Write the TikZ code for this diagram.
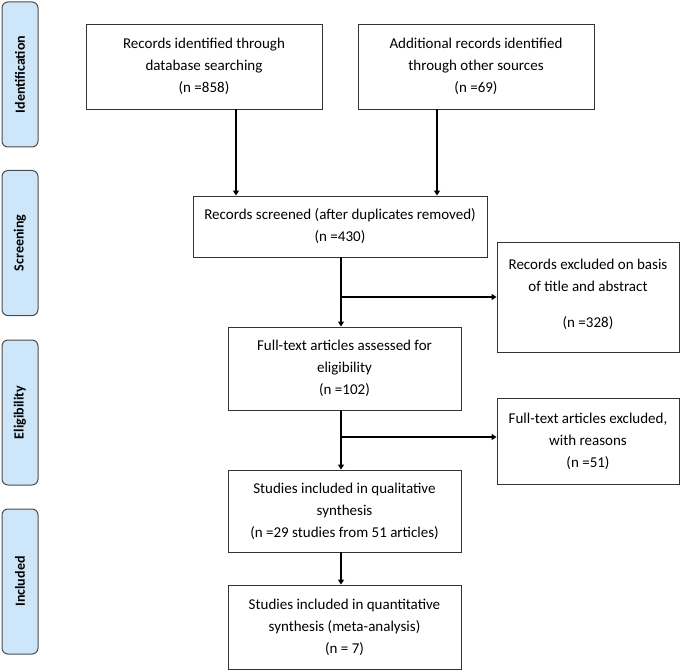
\documentclass[tikz,border=0pt]{standalone}
\usepackage{fontspec}
\setmainfont{Carlito}
\usetikzlibrary{arrows.meta}
\definecolor{stageblue}{RGB}{205,230,249}

\begin{document}
\begin{tikzpicture}[x=1pt, y=-1pt,
		box/.style={draw=black!80, line width=0.9pt, align=center, inner sep=2pt,
			font=\fontsize{15}{22}\selectfont},
		stage/.style={draw=black!70, line width=1pt, fill=stageblue, rounded corners=6pt,
			rotate=90, minimum width=145pt, minimum height=36pt, font=\bfseries\fontsize{14}{16}\selectfont},
		link/.style={line width=1.2pt, -{Triangle[length=5pt, width=6pt]}}]
			\useasboundingbox (0, 0) rectangle (680, 671);
			\foreach \y/\txt [count=\i] in {74.5/Identification, 243/Screening, 412.5/Eligibility, 581.5/Included}
				\node[stage] (stage\i) at (20, \y) {\txt};
			\node[box, minimum width=236pt, minimum height=85pt] (ident) at (204, 66.5)
				{Records identified through\\database searching\\(n =858)};
			\node[box, minimum width=236pt, minimum height=85pt] (other) at (476, 66.5)
				{Additional records identified\\through other sources\\(n =69)};
			\node[box, minimum width=294pt, minimum height=61pt] (screen) at (340, 226.5)
				{Records screened (after duplicates removed)\\(n =430)};
			\node[box, minimum width=182pt, minimum height=110pt, text depth=8pt] (excl) at (588, 297)
				{Records excluded on basis\\of title and abstract\\[14pt](n =328)};
			\node[box, minimum width=233pt, minimum height=83pt] (full) at (344.5, 368.5)
				{Full-text articles assessed for\\eligibility\\(n =102)};
			\node[box, minimum width=182pt, minimum height=86pt] (fullexcl) at (588, 441)
				{Full-text articles excluded,\\with reasons\\(n =51)};
			\node[box, minimum width=233pt, minimum height=82pt] (qual) at (344.5, 511)
				{Studies included in qualitative\\synthesis\\(n =29 studies from 51 articles)};
			\node[box, minimum width=233pt, minimum height=84pt] (quant) at (344.5, 627)
				{Studies included in quantitative\\synthesis (meta-analysis)\\(n = 7)};
			\coordinate (split1) at (341, 297);
			\coordinate (split2) at (341, 437);
			\draw[link] (ident.south -| 236, 0) -- (screen.north -| 236, 0);
			\draw[link] (other.south -| 437, 0) -- (screen.north -| 437, 0);
			\draw[link] (screen.south -| split1) -- (full.north -| split1);
			\draw[link] (split1) -- (excl.west |- split1);
			\draw[link] (full.south -| split2) -- (qual.north -| split2);
			\draw[link] (split2) -- (fullexcl.west |- split2);
			\draw[link] (qual.south -| split2) -- (quant.north -| split2);
		\end{tikzpicture}
\end{document}
